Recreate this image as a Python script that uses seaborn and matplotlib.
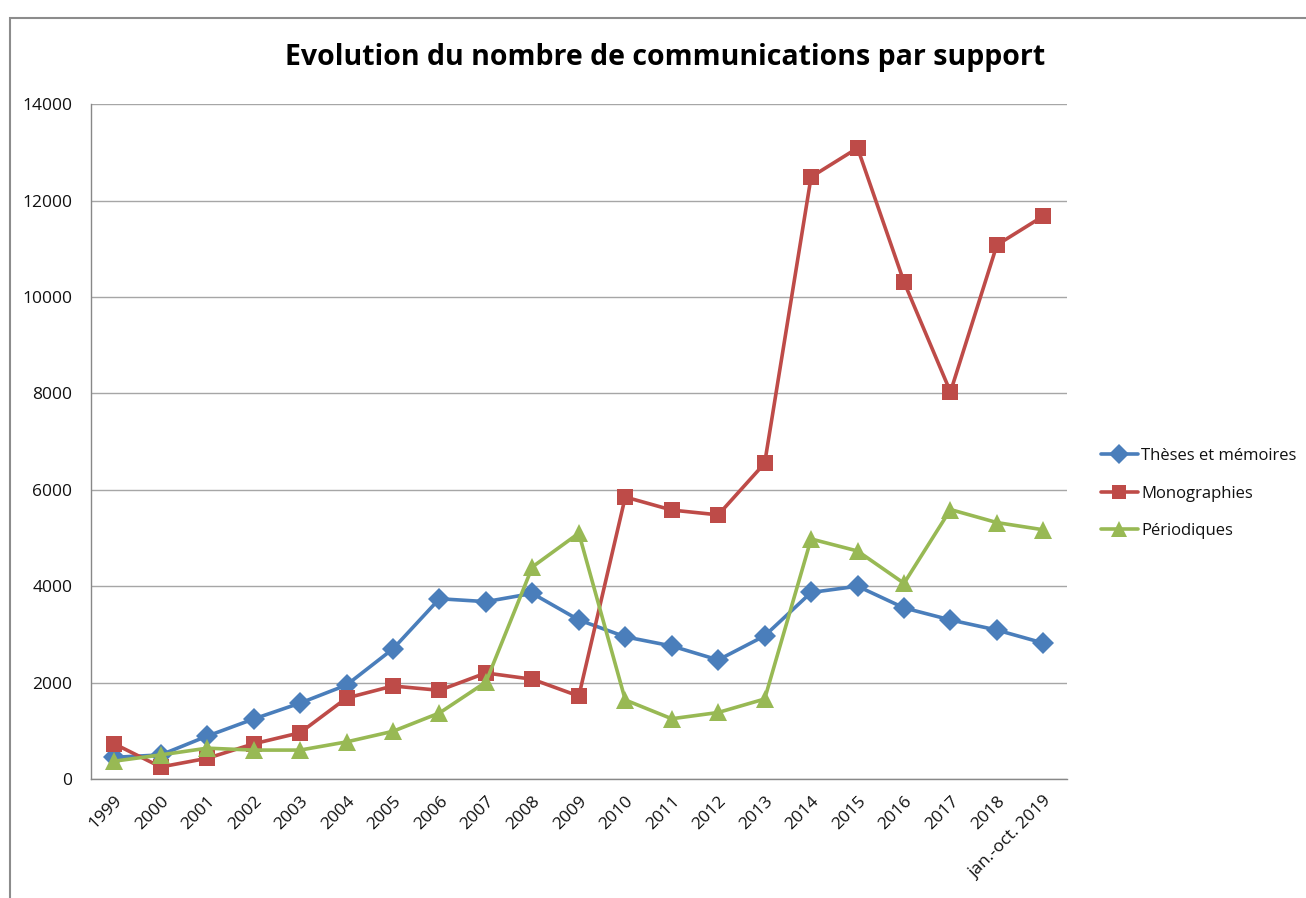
import numpy as np
import pandas as pd
import matplotlib
matplotlib.use("Agg")
import matplotlib.pyplot as plt
from matplotlib.patches import Rectangle
import seaborn as sns

# Données
annees = ["1999", "2000", "2001", "2002", "2003", "2004", "2005", "2006", "2007",
          "2008", "2009", "2010", "2011", "2012", "2013", "2014", "2015", "2016",
          "2017", "2018", "jan.-oct. 2019"]
theses = [450, 500, 890, 1245, 1575, 1950, 2700, 3740, 3680, 3850, 3300,
          2950, 2760, 2470, 2970, 3870, 4000, 3550, 3300, 3090, 2820]
monographies = [730, 250, 430, 730, 960, 1680, 1930, 1840, 2200, 2070, 1720,
                5850, 5580, 5480, 6550, 12490, 13090, 10310, 8030, 11080, 11680]
periodiques = [370, 500, 640, 600, 600, 770, 990, 1370, 2010, 4400, 5100,
               1640, 1250, 1380, 1660, 4980, 4730, 4060, 5590, 5320, 5170]

series = ["Thèses et mémoires", "Monographies", "Périodiques"]
couleurs = ["#4A7EBB", "#BE4B48", "#98B954"]
marqueurs = ["D", "s", "^"]
tailles = {"D": 11, "s": 11.5, "^": 13}

df = pd.DataFrame({
    "annee": annees * 3,
    "valeur": theses + monographies + periodiques,
    "support": np.repeat(series, len(annees)),
})

sns.set_style("white")
plt.rcParams["font.family"] = ["Open Sans", "DejaVu Sans"]
plt.rcParams["text.color"] = "#111111"
plt.rcParams["xtick.labelcolor"] = "#111111"
plt.rcParams["ytick.labelcolor"] = "#111111"

fig = plt.figure(figsize=(13.06, 8.98), dpi=100)
ax = fig.add_axes([0.0697, 0.1325, 0.747, 0.7515])

sns.lineplot(data=df, x="annee", y="valeur", hue="support", style="support",
             hue_order=series, style_order=series, palette=couleurs,
             markers=marqueurs, dashes=False, linewidth=2.6, markersize=10,
             markeredgewidth=0, sort=False, ax=ax)

# tailles de marqueurs propres à chaque série
for ligne in ax.lines:
    m = ligne.get_marker()
    if m in tailles:
        ligne.set_markersize(tailles[m])

ax.set_xlim(-0.5, len(annees) - 0.5)
ax.set_ylim(0, 14000)
ax.set_yticks(range(0, 14001, 2000))
ax.set_yticklabels([str(v) for v in range(0, 14001, 2000)], fontsize=12.5)
ax.set_xticks(range(len(annees)))
ax.set_xticklabels(annees, rotation=45, ha="right", rotation_mode="anchor", fontsize=12.5)
ax.set_xticks(np.arange(-0.5, len(annees), 1), minor=True)
ax.tick_params(axis="x", which="major", length=0, pad=10)
ax.tick_params(axis="x", which="minor", length=4.5, direction="out", color="#888888")
ax.tick_params(axis="y", length=4.5, direction="out", color="#888888", pad=9)
ax.yaxis.grid(True, color="#A6A6A6", linewidth=1)
ax.set_xlabel("")
ax.set_ylabel("")
for cote in ["top", "right"]:
    ax.spines[cote].set_visible(False)
for cote in ["left", "bottom"]:
    ax.spines[cote].set_color("#888888")
    ax.spines[cote].set_linewidth(1)

ax.set_title("Evolution du nombre de communications par support",
             fontsize=20.5, fontweight="bold", pad=28, x=0.588, color="black")

leg = ax.legend(loc="center left", bbox_to_anchor=(1.02, 0.423), frameon=False,
                fontsize=12, handlelength=2.2, handletextpad=0.2, labelspacing=1.3)
for h in leg.legend_handles:
    m = h.get_marker()
    if m in tailles:
        h.set_markersize(tailles[m] - 1)

fig.add_artist(Rectangle((0.0077, -0.1), 1.2, 1.08, transform=fig.transFigure,
                         fill=False, edgecolor="#8C8C8C", linewidth=1.5))

fig.savefig("out.png", dpi=100)
